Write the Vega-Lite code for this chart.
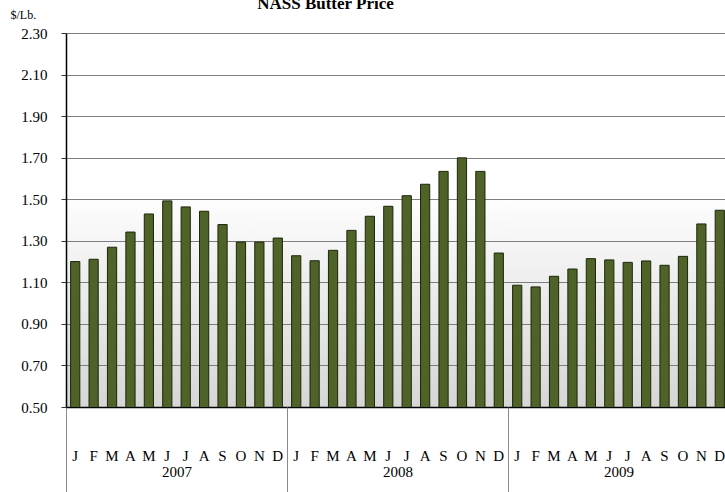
{
  "$schema": "https://vega.github.io/schema/vega-lite/v6.json",
  "autosize": "none",
  "width": 663,
  "height": 374,
  "padding": {"left": 66, "top": 33, "right": 0, "bottom": 85},
  "background": "white",
  "title": {"text": "NASS Butter Price", "font": "Liberation Serif", "fontSize": 17, "fontWeight": "bold", "color": "black", "anchor": "middle", "frame": "group", "dx": -72, "offset": -5},
  "config": {
    "font": "Liberation Serif",
    "view": {"stroke": null, "fill": {"gradient": "linear", "x1": 0, "y1": 0, "x2": 0, "y2": 1, "stops": [{"offset": 0, "color": "#ffffff"}, {"offset": 0.42, "color": "#ffffff"}, {"offset": 1, "color": "#d6d6d6"}]}}
  },
  "data": {"values": [
    {"key": "2007-01", "year": "2007", "price": 1.200},
    {"key": "2007-02", "year": "2007", "price": 1.211},
    {"key": "2007-03", "year": "2007", "price": 1.269},
    {"key": "2007-04", "year": "2007", "price": 1.342},
    {"key": "2007-05", "year": "2007", "price": 1.429},
    {"key": "2007-06", "year": "2007", "price": 1.492},
    {"key": "2007-07", "year": "2007", "price": 1.463},
    {"key": "2007-08", "year": "2007", "price": 1.442},
    {"key": "2007-09", "year": "2007", "price": 1.378},
    {"key": "2007-10", "year": "2007", "price": 1.294},
    {"key": "2007-11", "year": "2007", "price": 1.294},
    {"key": "2007-12", "year": "2007", "price": 1.313},
    {"key": "2008-01", "year": "2008", "price": 1.228},
    {"key": "2008-02", "year": "2008", "price": 1.204},
    {"key": "2008-03", "year": "2008", "price": 1.254},
    {"key": "2008-04", "year": "2008", "price": 1.350},
    {"key": "2008-05", "year": "2008", "price": 1.418},
    {"key": "2008-06", "year": "2008", "price": 1.466},
    {"key": "2008-07", "year": "2008", "price": 1.517},
    {"key": "2008-08", "year": "2008", "price": 1.572},
    {"key": "2008-09", "year": "2008", "price": 1.634},
    {"key": "2008-10", "year": "2008", "price": 1.699},
    {"key": "2008-11", "year": "2008", "price": 1.634},
    {"key": "2008-12", "year": "2008", "price": 1.241},
    {"key": "2009-01", "year": "2009", "price": 1.086},
    {"key": "2009-02", "year": "2009", "price": 1.078},
    {"key": "2009-03", "year": "2009", "price": 1.129},
    {"key": "2009-04", "year": "2009", "price": 1.164},
    {"key": "2009-05", "year": "2009", "price": 1.214},
    {"key": "2009-06", "year": "2009", "price": 1.208},
    {"key": "2009-07", "year": "2009", "price": 1.196},
    {"key": "2009-08", "year": "2009", "price": 1.203},
    {"key": "2009-09", "year": "2009", "price": 1.182},
    {"key": "2009-10", "year": "2009", "price": 1.225},
    {"key": "2009-11", "year": "2009", "price": 1.381},
    {"key": "2009-12", "year": "2009", "price": 1.447}
  ]},
  "layer": [
    {
      "mark": {"type": "bar", "fill": "#4f6228", "stroke": "#1c260c", "strokeWidth": 1, "clip": true},
      "encoding": {
        "x": {
          "field": "key", "type": "ordinal",
          "scale": {"paddingInner": 0.5, "paddingOuter": 0.25},
          "axis": {
            "title": null, "labelAngle": 0, "ticks": false, "tickSize": 0,
            "labelExpr": "substring('JFMAMJJASOND', toNumber(slice(datum.value, 5)) - 1, toNumber(slice(datum.value, 5)))",
            "labelPadding": 41, "labelFont": "Liberation Serif", "labelFontSize": 15, "labelColor": "black",
            "domainColor": "black", "domainWidth": 1.5
          }
        },
        "y": {
          "field": "price", "type": "quantitative",
          "scale": {"domain": [0.5, 2.3], "zero": false, "nice": false},
          "axis": {
            "values": [0.5, 0.7, 0.9, 1.1, 1.3, 1.5, 1.7, 1.9, 2.1, 2.3],
            "format": ".2f",
            "title": "$/Lb.", "titleAngle": 0, "titleAlign": "left", "titleBaseline": "alphabetic",
            "titleX": -56, "titleY": -15, "titleFont": "Liberation Serif", "titleFontSize": 12, "titleFontWeight": "normal", "titleColor": "black",
            "labelFont": "Liberation Serif", "labelFontSize": 15, "labelColor": "black", "labelPadding": 14,
            "tickSize": 5, "tickColor": "#333333", "domainColor": "black", "domainWidth": 1.5,
            "grid": true, "gridColor": "#7f7f7f", "gridWidth": 1
          }
        }
      }
    },
    {
      "mark": {"type": "bar", "opacity": 0},
      "encoding": {
        "x": {
          "field": "year", "type": "ordinal",
          "scale": {"paddingInner": 0, "paddingOuter": 0},
          "axis": {
            "orient": "bottom", "title": null, "labelAngle": 0, "domain": false,
            "tickBand": "extent", "tickSize": 85, "tickColor": "#8a8a8a", "tickWidth": 1,
            "labelPadding": -28, "labelFont": "Liberation Serif", "labelFontSize": 15, "labelColor": "black"
          }
        }
      }
    }
  ],
  "resolve": {"scale": {"x": "independent"}, "axis": {"x": "independent"}}
}
